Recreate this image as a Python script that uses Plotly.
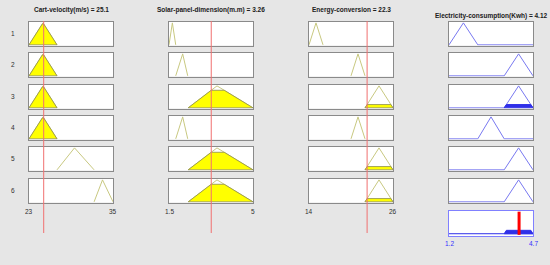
import plotly.graph_objects as go

W, H = 550, 265

# ---- data ----
input_names = ["Cart-velocity(m/s)", "Solar-panel-dimension(m.m)", "Energy-conversion"]
input_values = [25.1, 3.26, 22.3]
input_ranges = [[23, 35], [1.5, 5], [14, 26]]
input_tick_labels = [["23", "35"], ["1.5", "5"], ["14", "26"]]

cart_mfs = [[23, 25, 27], [23, 25, 27], [23, 25, 27], [23, 25, 27], [27, 29.5, 32.3], [32.3, 33.5, 35]]
solar_mfs = [[1.5, 1.64, 1.78], [1.78, 2.07, 2.28], [2.3, 3.5, 5], [1.78, 2.07, 2.28], [2.3, 3.5, 5], [2.3, 3.5, 5]]
energy_mfs = [[14, 15, 16], [20, 21, 22], [22, 24, 26], [20, 21, 22], [22, 24, 26], [22, 24, 26]]
input_mfs = [cart_mfs, solar_mfs, energy_mfs]

output_name = "Electricity-consumption(Kwh)"
output_value = 4.12
output_range = [1.2, 4.7]
output_tick_labels = ["1.2", "4.7"]
output_mfs = [[1.2, 1.8, 2.4], [3.5, 4.1, 4.7], [3.5, 4.1, 4.7], [2.4, 2.95, 3.5], [3.5, 4.1, 4.7], [3.5, 4.1, 4.7]]

rule_labels = ["1", "2", "3", "4", "5", "6"]

# ---- layout geometry (pixels) ----
col_x = [(29, 113), (169, 253), (309, 393), (449, 533)]
row_top = [22, 53, 85, 116, 147, 179]
row_h = 23.5
agg_box = (211, 236)
line_top, line_bot = 21, 233

def trimf(x, p):
    a, b, c = p
    if x <= a or x >= c:
        return 0.0
    if x <= b:
        return (x - a) / (b - a) if b > a else 1.0
    return (c - x) / (c - b) if c > b else 1.0

def clipped(p, h):
    a, b, c = p
    h = min(h, 1.0)
    xs = [a, a + h * (b - a), c - h * (c - b), c, a]
    ys = [0, h, h, 0, 0]
    return xs, ys

fig = go.Figure()
layout = {}
axis_of = {}
n = 0

def add_axis(x0, x1, y0, y1, xr, yr, linecolor):
    global n
    n += 1
    xk = "xaxis" if n == 1 else f"xaxis{n}"
    yk = "yaxis" if n == 1 else f"yaxis{n}"
    xn = "x" if n == 1 else f"x{n}"
    yn = "y" if n == 1 else f"y{n}"
    common = dict(showticklabels=False, ticks="", showgrid=False, zeroline=False,
                  showline=True, mirror=True, linecolor=linecolor, linewidth=1, fixedrange=True)
    layout[xk] = dict(domain=[x0 / W, x1 / W], range=xr, anchor=yn, **common)
    layout[yk] = dict(domain=[1 - y1 / H, 1 - y0 / H], range=yr, anchor=xn, **common)
    return xn, yn

YR = [-0.03, 1.04]
degrees = [[trimf(input_values[c], input_mfs[c][r]) for c in range(3)] for r in range(6)]
firing = [min(d) for d in degrees]

# inputs
for c in range(3):
    for r in range(6):
        xn, yn = add_axis(col_x[c][0], col_x[c][1], row_top[r], row_top[r] + row_h,
                          input_ranges[c], YR, "#8a8a8a")
        axis_of[(c, r)] = (xn, yn)
        p = input_mfs[c][r]
        h = degrees[r][c]
        fig.add_trace(go.Scatter(x=[p[0], p[1], p[2]], y=[0, 1, 0], mode="lines",
                                 line=dict(color="#c8c880", width=1), xaxis=xn, yaxis=yn,
                                 showlegend=False, hoverinfo="skip"))
        if h > 0:
            xs, ys = clipped(p, h)
            fig.add_trace(go.Scatter(x=xs, y=ys, mode="lines", fill="toself",
                                     fillcolor="#ffff00", line=dict(color="#8c8c50", width=0.8),
                                     xaxis=xn, yaxis=yn, showlegend=False, hoverinfo="skip"))

# outputs
for r in range(6):
    xn, yn = add_axis(col_x[3][0], col_x[3][1], row_top[r], row_top[r] + row_h,
                      output_range, YR, "#8a8a8a")
    p = output_mfs[r]
    fig.add_trace(go.Scatter(x=[output_range[0], p[0], p[1], p[2], output_range[1]],
                             y=[0, 0, 1, 0, 0], mode="lines",
                             line=dict(color="#7878f0", width=1), xaxis=xn, yaxis=yn,
                             showlegend=False, hoverinfo="skip"))
    if firing[r] > 0:
        xs, ys = clipped(p, firing[r])
        fig.add_trace(go.Scatter(x=xs, y=ys, mode="lines", fill="toself",
                                 fillcolor="#3030e8", line=dict(color="#3030e8", width=1),
                                 xaxis=xn, yaxis=yn, showlegend=False, hoverinfo="skip"))

# aggregate
xa, ya = add_axis(col_x[3][0], col_x[3][1], agg_box[0], agg_box[1], output_range, [-0.1, 1.0], "#8080ff")
fig.add_trace(go.Scatter(x=output_range, y=[0, 0], mode="lines", line=dict(color="#3030e8", width=1),
                         xaxis=xa, yaxis=ya, showlegend=False, hoverinfo="skip"))
for r in range(6):
    if firing[r] > 0:
        xs, ys = clipped(output_mfs[r], firing[r])
        fig.add_trace(go.Scatter(x=xs, y=ys, mode="lines", fill="toself",
                                 fillcolor="#3030e8", line=dict(color="#3030e8", width=1),
                                 xaxis=xa, yaxis=ya, showlegend=False, hoverinfo="skip"))
fig.add_trace(go.Scatter(x=[output_value, output_value], y=[-0.05, 0.97], mode="lines",
                         line=dict(color="#ff0000", width=3), xaxis=xa, yaxis=ya,
                         showlegend=False, hoverinfo="skip"))

shapes = []
annotations = []
FONT = "Liberation Sans, Arial, sans-serif"
for c in range(3):
    xn, _ = axis_of[(c, 0)]
    shapes.append(dict(type="line", xref=xn, yref="paper", x0=input_values[c], x1=input_values[c],
                       y0=1 - line_bot / H, y1=1 - line_top / H,
                       line=dict(color="#f07070", width=1), layer="above"))
    annotations.append(dict(text=f"<b>{input_names[c]} = {input_values[c]}</b>", xref="paper", yref="paper",
                            x=(col_x[c][0] + col_x[c][1]) / 2 / W, y=1 - 10 / H, showarrow=False,
                            font=dict(family=FONT, size=6.5, color="#202020"), xanchor="center", yanchor="middle"))
    for k in range(2):
        annotations.append(dict(text=input_tick_labels[c][k], xref="paper", yref="paper",
                                x=col_x[c][k] / W, y=1 - 211 / H, showarrow=False,
                                font=dict(family=FONT, size=6.5, color="#303030"),
                                xanchor="center", yanchor="middle"))

annotations.append(dict(text=f"<b>{output_name} = {output_value}</b>", xref="paper", yref="paper",
                        x=(col_x[3][0] + col_x[3][1]) / 2 / W, y=1 - 16 / H, showarrow=False,
                        font=dict(family=FONT, size=6.5, color="#202020"), xanchor="center", yanchor="middle"))
for k in range(2):
    annotations.append(dict(text=output_tick_labels[k], xref="paper", yref="paper",
                            x=col_x[3][k] / W, y=1 - 243 / H, showarrow=False,
                            font=dict(family=FONT, size=6.5, color="#3030ff"),
                            xanchor="center", yanchor="middle"))
for r in range(6):
    annotations.append(dict(text=rule_labels[r], xref="paper", yref="paper",
                            x=13 / W, y=1 - (row_top[r] + row_h / 2) / H, showarrow=False,
                            font=dict(family=FONT, size=6.5, color="#303030"),
                            xanchor="center", yanchor="middle"))

fig.update_layout(width=W, height=H, margin=dict(l=0, r=0, t=0, b=0),
                  paper_bgcolor="#e6e6e6", plot_bgcolor="#ffffff",
                  shapes=shapes, annotations=annotations, showlegend=False, **layout)
fig.write_html("out.html", config={"displayModeBar": False},
               post_script="document.body.style.margin='0';document.body.style.background='#e6e6e6';")
